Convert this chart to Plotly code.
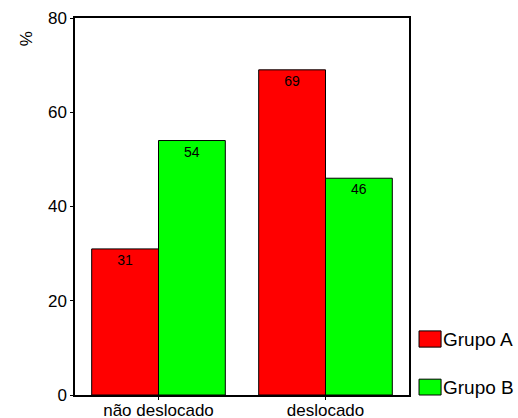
import plotly.graph_objects as go

categories = ["não deslocado", "deslocado"]
grupo_a = [31, 69]
grupo_b = [54, 46]
series_names = ["Grupo A", "Grupo B"]
colors = ["#ff0000", "#00ff00"]
y_ticks = [0, 20, 40, 60, 80]

FONT = "Liberation Sans, Arial, sans-serif"

fig = go.Figure()
for name, vals, col in zip(series_names, [grupo_a, grupo_b], colors):
    fig.add_trace(go.Bar(
        x=categories, y=vals, name=name,
        marker=dict(color=col, line=dict(color="#000000", width=1)),
        text=[str(v) for v in vals], textposition="inside",
        insidetextanchor="end", textangle=0,
        textfont=dict(family=FONT, size=14, color="#000000"),
        showlegend=False,
    ))

fig.update_layout(
    width=518, height=418,
    margin=dict(l=75, r=109, t=18, b=23, autoexpand=False),
    paper_bgcolor="white", plot_bgcolor="white",
    barmode="group", bargap=0.2, bargroupgap=0,
    font=dict(family=FONT, size=17, color="#000000"),
)
fig.update_xaxes(
    showline=True, linecolor="#000000", linewidth=1.5, mirror=True,
    ticks="outside", ticklen=3, tickcolor="#000000", automargin=False,
    tickfont=dict(family=FONT, size=17), showgrid=False,
    ticklabelstandoff=-4,
)
fig.update_yaxes(
    range=[0, 80], tickvals=y_ticks, showline=True, linecolor="#000000",
    linewidth=1.5, mirror=True, ticks="outside", ticklen=3, tickcolor="#000000",
    tickfont=dict(family=FONT, size=17), showgrid=False, zeroline=False,
    automargin=False,
)

# y-axis title "%"
fig.add_annotation(text="%", xref="paper", yref="paper", x=-0.18, y=0.97,
                   showarrow=False, textangle=-90,
                   font=dict(family=FONT, size=17))

# custom legend
leg_y = [(0.127, 0.170), (0.0, 0.042)]
for name, col, (y0, y1) in zip(series_names, colors, leg_y):
    fig.add_shape(type="rect", xref="paper", yref="paper",
                  x0=1.03, x1=1.096, y0=y0, y1=y1,
                  fillcolor=col, line=dict(color="#000000", width=1))
    fig.add_annotation(text=name, xref="paper", yref="paper", x=1.096,
                       y=(y0 + y1) / 2, xanchor="left", yanchor="middle",
                       showarrow=False, xshift=0,
                       font=dict(family=FONT, size=19))

fig.write_html(
    "out.html",
    config={"displayModeBar": False},
    post_script="document.body.style.margin='0';document.body.style.overflow='hidden';",
)
